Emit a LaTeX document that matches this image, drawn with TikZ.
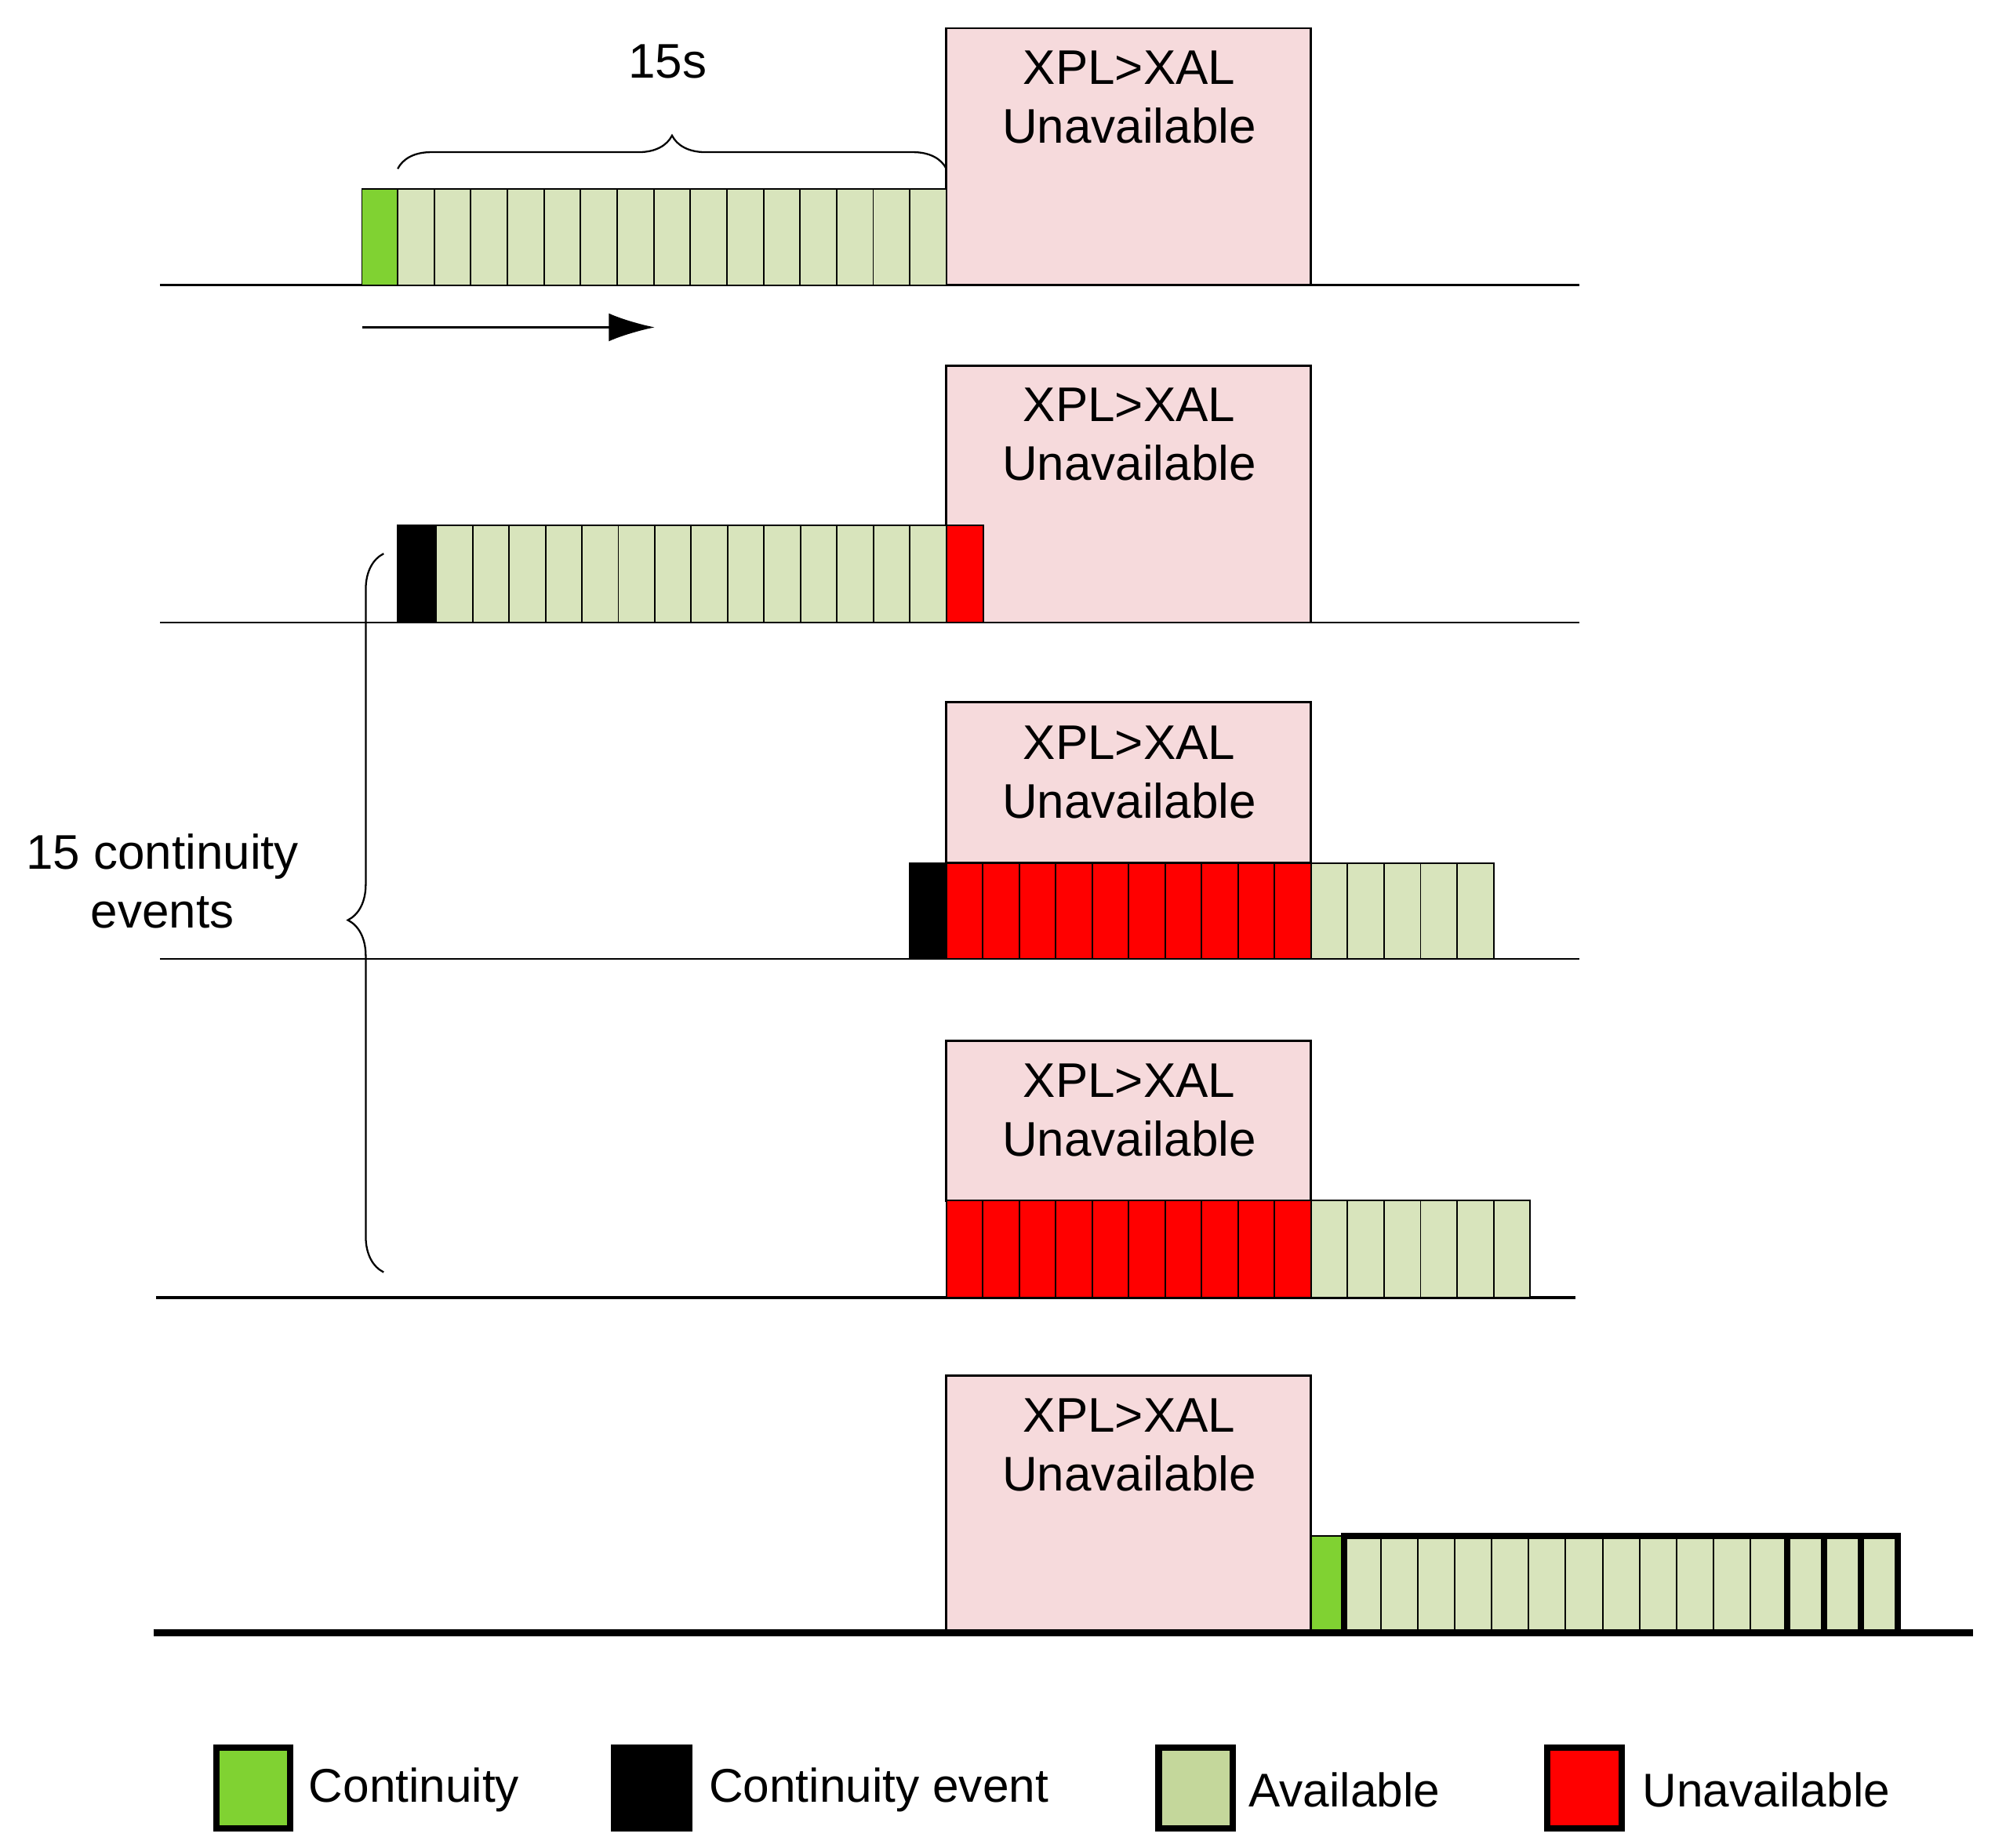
\documentclass[tikz,border=0pt]{standalone}
\usepackage{fontspec}
\setmainfont{Liberation Sans}
\usetikzlibrary{decorations.pathreplacing,arrows.meta}
\definecolor{pinkb}{RGB}{246,218,220}
\definecolor{avail}{RGB}{216,228,188}
\definecolor{cont}{RGB}{128,210,50}
\definecolor{unav}{RGB}{255,0,0}
\definecolor{legav}{RGB}{196,215,155}
\begin{document}
\begin{tikzpicture}[x=1pt,y=-1pt,
  box/.style={draw,line width=1.6pt,fill=pinkb},
  cell/.style={draw,line width=1.2pt},
  base/.style={line width=1.6pt},
  lab/.style={font=\fontsize{38}{46}\selectfont,align=center},
  leg/.style={draw,line width=5pt},
  legt/.style={font=\fontsize{37}{44}\selectfont,anchor=west}]
\useasboundingbox (0,0) rectangle (1560,1445);
\def\w{28.6}
% Row 1
\draw[base] (125,223) -- (1235,223);
\draw[box] (740,22) rectangle (1025,223);
\node[lab] (t1) at (883,76) {XPL>XAL\\Unavailable};
\draw[cell,fill=cont] (283,148) rectangle (311,223);
\foreach \i in {0,...,14}{\draw[cell,fill=avail] (311+\i*\w,148) rectangle (311+\i*\w+\w,223);}
\draw[line width=1.4pt,decorate,decoration={brace,amplitude=26pt}] (311,132) -- (740,132);
\node[lab] (b1) at (522,48) {15s};
\coordinate (a0) at (283,256); \coordinate (a1) at (512,256);
\draw[line width=2pt,-{Latex[length=36pt,width=22pt]}] (a0) -- (a1);
% Row 2
\draw[base] (125,487) -- (1235,487);
\draw[box] (740,286) rectangle (1025,487);
\node[lab] (t2) at (883,340) {XPL>XAL\\Unavailable};
\draw[cell,fill=black] (311,411) rectangle (341,487);
\foreach \i in {0,...,13}{\draw[cell,fill=avail] (341+\i*28.5,411) rectangle (341+\i*28.5+28.5,487);}
\draw[cell,fill=unav] (740,411) rectangle (769,487);
% Row 3
\draw[base] (125,750) -- (1235,750);
\draw[box] (740,549) rectangle (1025,675);
\node[lab] (t3) at (883,604) {XPL>XAL\\Unavailable};
\draw[cell,fill=black] (711,675) rectangle (740,750);
\foreach \i in {0,...,9}{\draw[cell,fill=unav] (740+\i*28.5,675) rectangle (740+\i*28.5+28.5,750);}
\foreach \i in {0,...,4}{\draw[cell,fill=avail] (1025+\i*28.6,675) rectangle (1025+\i*28.6+28.6,750);}
% Row 4
\draw[line width=2.4pt] (122,1015) -- (1232,1015);
\draw[box] (740,814) rectangle (1025,939);
\node[lab] (t4) at (883,868) {XPL>XAL\\Unavailable};
\foreach \i in {0,...,9}{\draw[cell,fill=unav] (740+\i*28.5,939) rectangle (740+\i*28.5+28.5,1015);}
\foreach \i in {0,...,5}{\draw[cell,fill=avail] (1025+\i*28.6,939) rectangle (1025+\i*28.6+28.6,1015);}
% left brace
\draw[line width=1.4pt,decorate,decoration={brace,amplitude=28pt,aspect=0.49}] (300,995) -- (300,433);
\node[lab] (b2) at (127,689) {15 continuity\\events};
% Row 5
\draw[box] (740,1076) rectangle (1025,1277);
\node[lab] (t5) at (883,1130) {XPL>XAL\\Unavailable};
\draw[cell,fill=cont] (1025,1201) rectangle (1051,1277);
\foreach \i in {0,...,14}{\draw[cell,fill=avail] (1051+\i*28.87,1201) rectangle (1051+\i*28.87+28.87,1277);}
\draw[line width=5pt] (1051,1201) rectangle (1484,1277);
\foreach \i in {12,13,14}{\draw[line width=5pt] (1051+\i*28.87,1201) -- (1051+\i*28.87,1277);}
\draw[line width=5pt] (120,1277) -- (1543,1277);
% Legend
\draw[leg,fill=cont] (169,1367) rectangle (227,1430);
\node[legt] (l1) at (238,1400) {Continuity};
\draw[leg,fill=black] (480,1367) rectangle (539,1430);
\node[legt] (l2) at (551,1400) {Continuity event};
\draw[leg,fill=legav] (906,1367) rectangle (964,1430);
\node[legt] (l3) at (973,1400) {Available};
\draw[leg,fill=unav] (1210,1367) rectangle (1268,1430);
\node[legt] (l4) at (1281,1400) {Unavailable};
\end{tikzpicture}
\end{document}
